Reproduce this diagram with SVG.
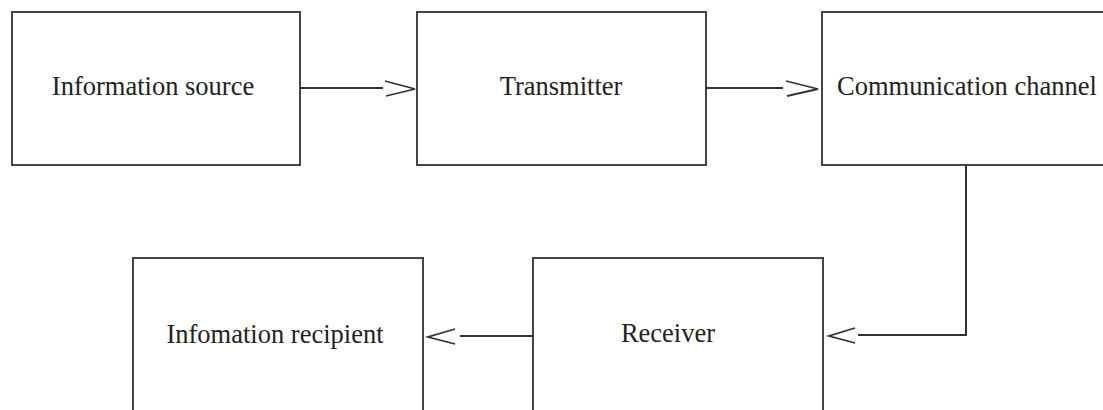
<svg xmlns="http://www.w3.org/2000/svg" width="1103" height="410" viewBox="0 0 1103 410">
<style>
.box{fill:#fff;stroke:#444;stroke-width:2}
.lbl{font-family:"Liberation Serif","Times New Roman",serif;font-size:26.5px;fill:#222}
.ln{fill:none;stroke:#333;stroke-width:2}
.hd{fill:none;stroke:#333;stroke-width:1.8;stroke-linejoin:miter}
</style>
<rect width="1103" height="410" fill="#fff"/>
<g id="info-source">
<rect class="box" x="12" y="12" width="288" height="153"/>
<text class="lbl" x="153" y="95" text-anchor="middle">Information source</text>
</g>
<g id="transmitter">
<rect class="box" x="417" y="12" width="289" height="153"/>
<text class="lbl" x="561" y="95" text-anchor="middle">Transmitter</text>
</g>
<g id="channel">
<rect class="box" x="822" y="12" width="300" height="153"/>
<text class="lbl" x="837" y="95">Communication channel</text>
</g>
<g id="recipient">
<rect class="box" x="133" y="258" width="290" height="170"/>
<text class="lbl" x="275" y="343" text-anchor="middle">Infomation recipient</text>
</g>
<g id="receiver">
<rect class="box" x="533" y="258" width="290" height="170"/>
<text class="lbl" x="668" y="342" text-anchor="middle">Receiver</text>
</g>
<g id="connectors">
<line class="ln" x1="300" y1="88" x2="383" y2="88"/>
<polyline class="hd" points="385,81 415,89 386,96"/>
<line class="ln" x1="706" y1="88" x2="783" y2="88"/>
<polyline class="hd" points="786,81 818,89 787,96"/>
<polyline class="ln" points="966,165 966,335 858,335"/>
<polyline class="hd" points="855,328 829,336 855,343"/>
<line class="ln" x1="533" y1="336" x2="460" y2="336"/>
<polyline class="hd" points="455,329 428,337 455,344"/>
</g>
</svg>
